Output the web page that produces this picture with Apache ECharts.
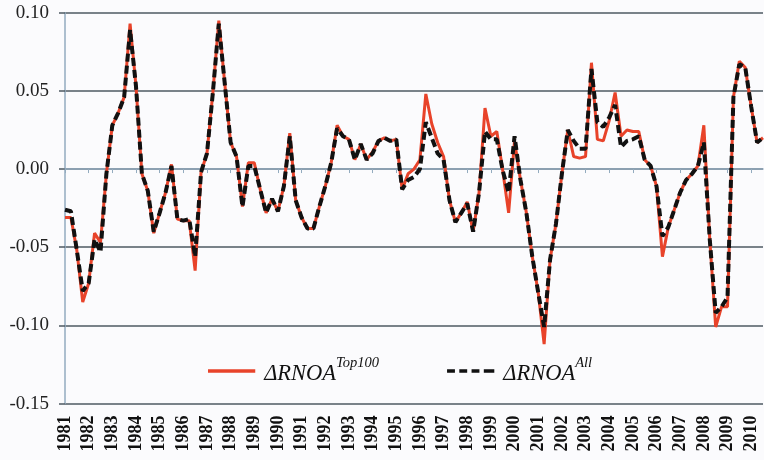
<!DOCTYPE html>
<html>
<head>
<meta charset="utf-8">
<script src="https://cdn.jsdelivr.net/npm/echarts@6/dist/echarts.min.js"></script>
<style>
html,body{margin:0;padding:0;background:#fbfbfd;}
#c{width:764px;height:460px;}
</style>
</head>
<body>
<div id="c"></div>
<script>
// Year tick labels (one every 4 quarterly observations)
var years = [1981,1982,1983,1984,1985,1986,1987,1988,1989,1990,1991,1992,1993,1994,1995,
             1996,1997,1998,1999,2000,2001,2002,2003,2004,2005,2006,2007,2008,2009,2010];
var quartersInLastYear = 3;

// ΔRNOA Top100 (red solid line), quarterly
var top100 = [
 -0.031,-0.031,-0.052,-0.085,-0.073,-0.041,-0.047,-0.003,
  0.028, 0.036, 0.046, 0.093, 0.053,-0.003,-0.014,-0.041,
 -0.028,-0.015, 0.003,-0.032,-0.033,-0.033,-0.065,-0.002,
  0.010, 0.049, 0.095, 0.055, 0.017, 0.008,-0.024, 0.004,
  0.004,-0.013,-0.028,-0.019,-0.027,-0.011, 0.023,-0.020,
 -0.031,-0.038,-0.038,-0.024,-0.011, 0.004, 0.028, 0.021,
  0.019, 0.006, 0.016, 0.006, 0.011, 0.018, 0.020, 0.018,
  0.019,-0.013,-0.003, 0.000, 0.006, 0.048, 0.029, 0.017,
  0.008,-0.020,-0.034,-0.028,-0.021,-0.040,-0.015, 0.039,
  0.021, 0.024,-0.001,-0.028, 0.018,-0.007,-0.028,-0.056,
 -0.079,-0.112,-0.058,-0.035,-0.003, 0.025, 0.008, 0.007,
  0.008, 0.068, 0.019, 0.018, 0.031, 0.049, 0.021, 0.025,
  0.024, 0.024, 0.006, 0.002,-0.011,-0.056,-0.037,-0.026,
 -0.015,-0.007,-0.003, 0.002, 0.028,-0.045,-0.101,-0.088,
 -0.088, 0.046, 0.069, 0.065, 0.040, 0.017, 0.020
];

// ΔRNOA All (black dashed line), quarterly
var all = [
 -0.026,-0.027,-0.052,-0.078,-0.073,-0.045,-0.053,-0.003,
  0.028, 0.036, 0.046, 0.089, 0.053,-0.003,-0.014,-0.040,
 -0.028,-0.015, 0.002,-0.032,-0.033,-0.032,-0.056,-0.002,
  0.010, 0.049, 0.093, 0.055, 0.017, 0.008,-0.024, 0.002,
  0.002,-0.013,-0.028,-0.019,-0.027,-0.011, 0.021,-0.020,
 -0.031,-0.038,-0.038,-0.024,-0.011, 0.004, 0.026, 0.021,
  0.019, 0.006, 0.016, 0.006, 0.010, 0.018, 0.020, 0.018,
  0.019,-0.013,-0.007,-0.005, 0.000, 0.030, 0.020, 0.010,
  0.006,-0.020,-0.034,-0.028,-0.022,-0.040,-0.015, 0.024,
  0.019, 0.019,-0.001,-0.015, 0.021,-0.007,-0.028,-0.056,
 -0.079,-0.101,-0.058,-0.035,-0.003, 0.025, 0.018, 0.013,
  0.013, 0.064, 0.030, 0.027, 0.033, 0.041, 0.014, 0.018,
  0.019, 0.021, 0.006, 0.002,-0.011,-0.043,-0.037,-0.026,
 -0.015,-0.007,-0.003, 0.002, 0.017,-0.045,-0.092,-0.088,
 -0.082, 0.046, 0.067, 0.065, 0.040, 0.017, 0.020
];

var seriesNames = ['ΔRNOA Top100', 'ΔRNOA All'];
var superscripts = ['Top100', 'All'];

var categories = [];
years.forEach(function (y, k) {
  var nq = (k === years.length - 1) ? quartersInLastYear : 4;
  for (var q = 1; q <= nq; q++) categories.push(q === 1 ? String(y) : y + 'Q' + q);
});

var gridCol = '#4e5a62';
var axisBlue = '#93abbf';
var serif = 'Liberation Serif';
var red = '#e8432a', blk = '#111111';

var chart = echarts.init(document.getElementById('c'), null, {renderer: 'canvas'});
chart.setOption({
  animation: false,
  backgroundColor: '#fbfbfd',
  grid: {left: 65, right: 1, top: 12.7, bottom: 56.4, containLabel: false, outerBoundsMode: 'none'},
  legend: {
    left: 208, top: 356, padding: 0,
    itemWidth: 55, itemHeight: 3.5, itemGap: 68,
    selectedMode: false,
    data: [
      {name: seriesNames[0], icon: 'path://M0,0h54v4h-54z'},
      {name: seriesNames[1], icon: 'path://M0,0h9v4h-9zM14,0h9v4h-9zM28,0h9v4h-9zM42,0h12v4h-12z'}
    ],
    formatter: function (n) {
      return '{m|ΔRNOA}{s|' + superscripts[seriesNames.indexOf(n)] + '}';
    },
    textStyle: {
      rich: {
        m: {fontFamily: serif, fontStyle: 'italic', fontSize: 22.5, color: '#111', lineHeight: 30, verticalAlign: 'bottom'},
        s: {fontFamily: serif, fontStyle: 'italic', fontSize: 14.5, color: '#111', lineHeight: 30, verticalAlign: 'top'}
      }
    }
  },
  xAxis: [{
    type: 'category',
    data: categories,
    boundaryGap: false,
    axisLine: {show: false, onZero: false},
    axisTick: {show: false},
    splitLine: {show: false},
    axisLabel: {
      interval: 3, rotate: 90, margin: 12,
      fontFamily: serif, fontWeight: 'bold', fontSize: 18, color: '#111'
    }
  }, {
    type: 'category',
    data: categories,
    boundaryGap: false,
    position: 'bottom',
    z: 1,
    axisLine: {show: true, onZero: true, lineStyle: {color: axisBlue, width: 1.5}},
    axisTick: {show: true, interval: 3, length: 4, lineStyle: {color: axisBlue, width: 1}},
    axisLabel: {show: false},
    splitLine: {show: false}
  }],
  yAxis: {
    type: 'value',
    min: -0.15, max: 0.10, interval: 0.05,
    axisLine: {show: true, lineStyle: {color: axisBlue, width: 1.5}},
    axisTick: {show: true, length: 6, lineStyle: {color: gridCol, width: 1.5}},
    splitLine: {show: true, lineStyle: {color: gridCol, width: 1.5}},
    axisLabel: {
      margin: 16, fontFamily: serif, fontSize: 19, color: '#222',
      formatter: function (v) { return v.toFixed(2); }
    }
  },
  series: [{
    name: seriesNames[0],
    type: 'line',
    data: top100,
    symbol: 'none',
    z: 3,
    itemStyle: {color: red},
    lineStyle: {color: red, width: 3}
  }, {
    name: seriesNames[1],
    type: 'line',
    data: all,
    symbol: 'none',
    z: 4,
    itemStyle: {color: blk},
    lineStyle: {color: blk, width: 4, type: [8, 4]}
  }]
});
</script>
</body>
</html>
